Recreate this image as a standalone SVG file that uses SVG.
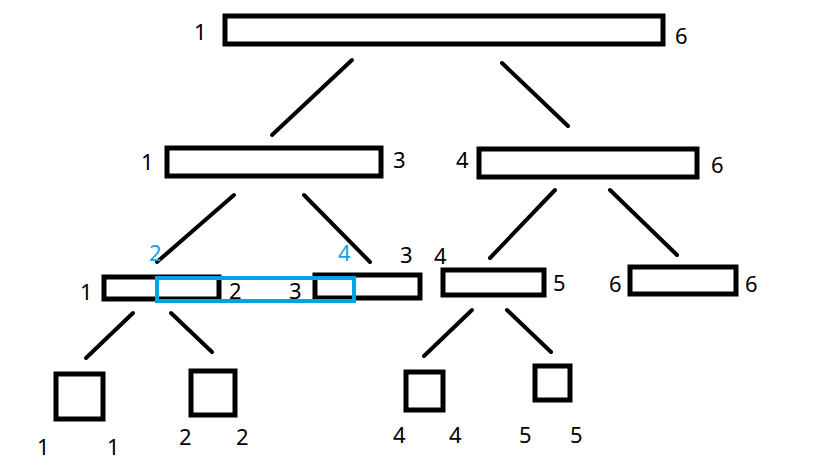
<svg xmlns="http://www.w3.org/2000/svg" width="814" height="468" viewBox="0 0 814 468">
<style>
.n{fill:#fff;stroke:#000;stroke-width:5}
.b{fill:none;stroke:#00a2e8;stroke-width:4}
.e{stroke:#000;stroke-width:4;stroke-linecap:round}
text{font-family:"Noto Sans","Open Sans","DejaVu Sans",sans-serif;font-size:22px;fill:#000}
.bt{fill:#1ba1e2}
</style>
<rect width="814" height="468" fill="#fff"/>
<g id="connectors">
<line class="e" x1="352" y1="60" x2="272" y2="135"/>
<line class="e" x1="502" y1="63" x2="568" y2="126"/>
<line class="e" x1="234" y1="195" x2="157" y2="262"/>
<line class="e" x1="304" y1="195" x2="370" y2="262"/>
<line class="e" x1="555" y1="190" x2="490" y2="258"/>
<line class="e" x1="610" y1="190" x2="677" y2="255"/>
<line class="e" x1="133" y1="313" x2="86" y2="358"/>
<line class="e" x1="171" y1="313" x2="212" y2="352"/>
<line class="e" x1="472" y1="310" x2="424" y2="356"/>
<line class="e" x1="507" y1="310" x2="551" y2="352"/>
</g>
<g id="n16">
<rect class="n" x="225" y="16" width="438" height="28"/>
<text x="194" y="40">1</text><text x="675" y="44">6</text>
</g>
<g id="n13">
<rect class="n" x="167" y="148" width="214" height="28"/>
<text x="141" y="170">1</text><text x="393" y="168">3</text>
</g>
<g id="n46">
<rect class="n" x="479" y="149" width="218" height="28"/>
<text x="456" y="168">4</text><text x="711" y="173">6</text>
</g>
<g id="n12">
<rect class="n" x="104" y="277" width="115" height="22"/>
<text x="80" y="300">1</text><text x="229" y="299">2</text>
</g>
<g id="n33">
<rect class="n" x="315" y="275" width="105" height="23"/>
<text x="289" y="299">3</text><text x="400" y="263">3</text>
</g>
<g id="blue">
<rect class="b" x="157" y="278" width="197" height="23"/>
<text class="bt" x="149" y="261">2</text><text class="bt" x="338" y="261">4</text>
</g>
<g id="n45">
<rect class="n" x="443" y="270" width="101" height="25"/>
<text x="434" y="264">4</text><text x="553" y="291">5</text>
</g>
<g id="n66">
<rect class="n" x="630" y="267" width="106" height="27"/>
<text x="609" y="292">6</text><text x="745" y="292">6</text>
</g>
<g id="n11">
<rect class="n" x="56" y="374" width="47" height="45"/>
<text x="37" y="455">1</text><text x="107" y="455">1</text>
</g>
<g id="n22">
<rect class="n" x="191" y="371" width="44" height="44"/>
<text x="179" y="445">2</text><text x="236" y="445">2</text>
</g>
<g id="n44">
<rect class="n" x="406" y="372" width="37" height="38"/>
<text x="393" y="443">4</text><text x="449" y="443">4</text>
</g>
<g id="n55">
<rect class="n" x="535" y="366" width="35" height="34"/>
<text x="519" y="443">5</text><text x="570" y="443">5</text>
</g>
</svg>
